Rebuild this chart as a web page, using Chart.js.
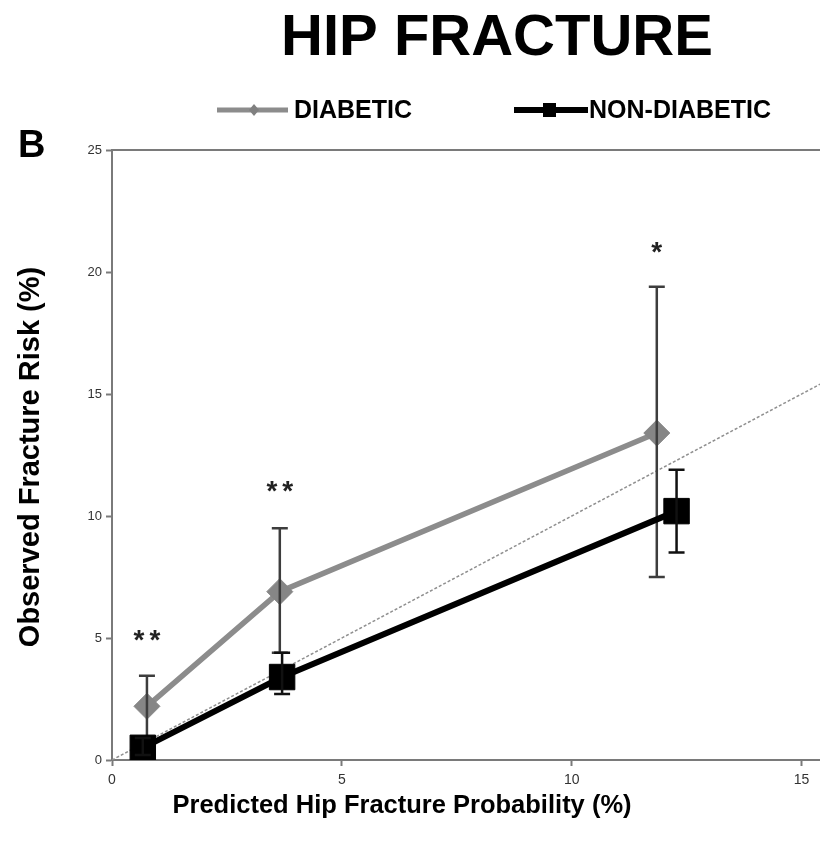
<!DOCTYPE html>
<html>
<head>
<meta charset="utf-8">
<script src="https://cdn.jsdelivr.net/npm/chart.js"></script>
<style>
  html, body { margin: 0; padding: 0; background: #fff; }
  #wrap { width: 820px; height: 849px; }
</style>
</head>
<body>
<div id="wrap"><canvas id="hipChart" width="820" height="849"></canvas></div>
<script>
// predicted probability (x) vs observed risk (y), both in %
const diabeticX = [0.76, 3.65, 11.85];
const diabeticY = [2.2, 6.9, 13.4];
const diabeticHi = [3.45, 9.5, 19.4];
const diabeticLo = [0.9, 4.4, 7.5];

const nonDiabeticX = [0.67, 3.7, 12.28];
const nonDiabeticY = [0.5, 3.4, 10.2];
const nonDiabeticHi = [0.9, 4.4, 11.9];
const nonDiabeticLo = [0.2, 2.7, 8.5];

// line of perfect calibration
const identityX = [0, 15.4];
const identityY = [0, 15.4];

// significance marks over the diabetic points
const starLabels = ['**', '**', '*'];
const starY = [5.2, 11.3, 21.1];

const xTicks = [0, 5, 10, 15];
const yTicks = [0, 5, 10, 15, 20, 25];

const GREY = '#8c8c8c';
const AXIS = '#7a7a7a';
const FONT = '"Liberation Sans", Arial, sans-serif';

function pts(xs, ys) {
  return xs.map((x, i) => ({ x: x, y: ys[i] }));
}

// vertical error bars, drawn right after their own dataset
const errorBars = {
  id: 'errorBars',
  afterDatasetDraw(chart, args) {
    const ds = chart.data.datasets[args.index];
    if (!ds.errHi) return;
    const { ctx, scales: { x, y } } = chart;
    ctx.save();
    ctx.strokeStyle = ds.errColor;
    ctx.lineWidth = 2.5;
    ds.data.forEach((p, i) => {
      const px = x.getPixelForValue(p.x);
      const top = y.getPixelForValue(ds.errHi[i]);
      const bot = y.getPixelForValue(ds.errLo[i]);
      ctx.beginPath();
      ctx.moveTo(px, top); ctx.lineTo(px, bot);
      ctx.moveTo(px - 8, top); ctx.lineTo(px + 8, top);
      ctx.moveTo(px - 8, bot); ctx.lineTo(px + 8, bot);
      ctx.stroke();
    });
    ctx.restore();
  }
};

// title, panel letter, legend, axis titles, frame top and the stars
const decorations = {
  id: 'decorations',
  afterDraw(chart) {
    const { ctx, chartArea: a, scales: { x, y } } = chart;
    ctx.save();

    // top of the frame
    ctx.strokeStyle = AXIS;
    ctx.lineWidth = 2;
    ctx.beginPath();
    ctx.moveTo(a.left - 1, a.top);
    ctx.lineTo(a.right, a.top);
    ctx.stroke();

    ctx.fillStyle = '#000';
    ctx.textAlign = 'center';
    ctx.textBaseline = 'alphabetic';
    ctx.font = 'bold 58px ' + FONT;
    ctx.fillText('HIP FRACTURE', 497, 55);

    ctx.textAlign = 'left';
    ctx.font = 'bold 38px ' + FONT;
    ctx.fillText('B', 18, 157);

    // legend
    ctx.lineWidth = 5;
    ctx.strokeStyle = GREY;
    ctx.beginPath(); ctx.moveTo(217, 110); ctx.lineTo(288, 110); ctx.stroke();
    ctx.fillStyle = '#808080';
    ctx.beginPath();
    ctx.moveTo(254, 104); ctx.lineTo(259, 110); ctx.lineTo(254, 116); ctx.lineTo(249, 110);
    ctx.closePath(); ctx.fill();

    ctx.lineWidth = 6;
    ctx.strokeStyle = '#000';
    ctx.beginPath(); ctx.moveTo(514, 110); ctx.lineTo(588, 110); ctx.stroke();
    ctx.fillStyle = '#000';
    ctx.fillRect(543, 103, 13, 14);

    ctx.font = 'bold 25px ' + FONT;
    ctx.textBaseline = 'middle';
    ctx.fillText('DIABETIC', 294, 111);
    ctx.fillText('NON-DIABETIC', 589, 111);

    // axis titles
    ctx.textAlign = 'center';
    ctx.font = 'bold 25.5px ' + FONT;
    ctx.fillText('Predicted Hip Fracture Probability (%)', 402, 806);
    ctx.save();
    ctx.translate(31, 457);
    ctx.rotate(-Math.PI / 2);
    ctx.font = 'bold 29px ' + FONT;
    ctx.fillText('Observed Fracture Risk (%)', 0, 0);
    ctx.restore();

    // significance stars
    ctx.fillStyle = '#222';
    ctx.font = 'bold 28px ' + FONT;
    ctx.textBaseline = 'alphabetic';
    ctx.textAlign = 'left';
    const gap = 5;
    ctx.letterSpacing = gap + 'px';
    starLabels.forEach((s, i) => {
      const w = ctx.measureText(s).width - gap;
      const px = x.getPixelForValue(diabeticX[i]);
      const py = y.getPixelForValue(starY[i]);
      ctx.fillText(s, px - w / 2, py + 28 * 0.55);
    });
    ctx.restore();
  }
};

new Chart(document.getElementById('hipChart'), {
  type: 'scatter',
  data: {
    datasets: [
      {
        label: 'NON-DIABETIC',
        data: pts(nonDiabeticX, nonDiabeticY),
        showLine: true,
        borderColor: '#000',
        borderWidth: 6,
        pointStyle: 'rect',
        pointRadius: 18,
        pointBackgroundColor: '#000',
        pointBorderColor: '#000',
        pointBorderWidth: 1,
        errHi: nonDiabeticHi,
        errLo: nonDiabeticLo,
        errColor: '#111',
        order: 0
      },
      {
        label: 'DIABETIC',
        data: pts(diabeticX, diabeticY),
        showLine: true,
        borderColor: GREY,
        borderWidth: 5.5,
        pointStyle: 'rectRot',
        pointRadius: 13,
        pointBackgroundColor: '#868686',
        pointBorderColor: '#868686',
        pointBorderWidth: 1,
        errHi: diabeticHi,
        errLo: diabeticLo,
        errColor: '#3d3d3d',
        order: 1
      },
      {
        label: 'identity',
        data: pts(identityX, identityY),
        showLine: true,
        borderColor: '#8f8f8f',
        borderWidth: 1.5,
        borderDash: [3, 2],
        pointRadius: 0,
        order: 2
      }
    ]
  },
  options: {
    responsive: false,
    animation: false,
    events: [],
    layout: { autoPadding: false, padding: { top: 150, right: 0, left: 0, bottom: 0 } },
    plugins: { legend: { display: false }, tooltip: { enabled: false } },
    scales: {
      x: {
        type: 'linear',
        min: 0,
        max: 15.4,
        afterBuildTicks: s => { s.ticks = xTicks.map(v => ({ value: v })); },
        afterFit: s => { s.height = 89; s.paddingLeft = 0; s.paddingRight = 0; },
        border: { display: true, color: AXIS, width: 2 },
        grid: { drawOnChartArea: false, drawTicks: true, tickLength: 6, color: AXIS, tickWidth: 2 },
        ticks: { color: '#333', padding: 6, font: { family: FONT, size: 14 } }
      },
      y: {
        type: 'linear',
        min: 0,
        max: 25,
        afterBuildTicks: s => { s.ticks = yTicks.map(v => ({ value: v })); },
        afterFit: s => { s.width = 112; s.paddingTop = 0; s.paddingBottom = 0; },
        border: { display: true, color: AXIS, width: 2 },
        grid: { drawOnChartArea: false, drawTicks: true, tickLength: 6, color: AXIS, tickWidth: 2 },
        ticks: { color: '#333', padding: 4, font: { family: FONT, size: 13 } }
      }
    }
  },
  plugins: [errorBars, decorations]
});
</script>
</body>
</html>
